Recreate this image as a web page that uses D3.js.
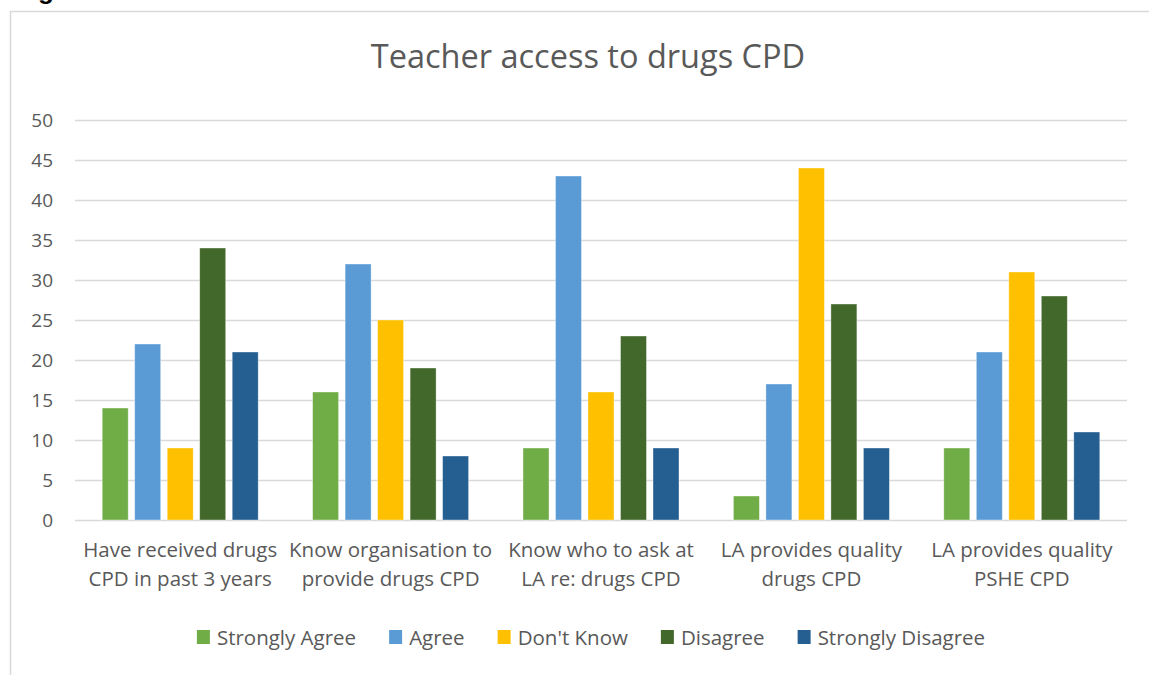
<!DOCTYPE html>
<html>
<head>
<meta charset="utf-8">
<script src="https://cdn.jsdelivr.net/npm/d3@7"></script>
<style>
  html, body { margin: 0; padding: 0; background: #fff; }
  svg { display: block; }
  text { font-family: "Open Sans", Lato, sans-serif; fill: #595959; }
</style>
</head>
<body>
<svg id="chart" width="1149" height="675"></svg>
<script>
// Survey responses: number of teachers per answer, for each statement
const categories = [
  ["Have received drugs", "CPD in past 3 years"],
  ["Know organisation to", "provide drugs CPD"],
  ["Know who to ask at", "LA re: drugs CPD"],
  ["LA provides quality", "drugs CPD"],
  ["LA provides quality", "PSHE CPD"]
];
const seriesNames = ["Strongly Agree", "Agree", "Don't Know", "Disagree", "Strongly Disagree"];
const stronglyAgree    = [14, 16, 9, 3, 9];
const agree            = [22, 32, 43, 17, 21];
const dontKnow         = [9, 25, 16, 44, 31];
const disagree         = [34, 19, 23, 27, 28];
const stronglyDisagree = [21, 8, 9, 9, 11];
const yTicks = [0, 5, 10, 15, 20, 25, 30, 35, 40, 45, 50];
const colors = ["#70AD47", "#5B9BD5", "#FFC000", "#43682B", "#255E91"];

const seriesValues = [stronglyAgree, agree, dontKnow, disagree, stronglyDisagree];
const catKeys = categories.map(c => c.join(" "));
const labelSize = "20.5px";

const svg = d3.select("#chart");

// Heading above the chart frame (only its descender falls inside the page)
svg.append("text")
  .attr("x", 15).attr("y", -1.5)
  .style("font-family", "'Liberation Sans', Arial, sans-serif")
  .style("font-weight", "bold")
  .style("font-size", "26px")
  .style("fill", "#000")
  .text("Figure");

// Chart area frame
svg.append("rect")
  .attr("x", 10.5).attr("y", 11.5)
  .attr("width", 1300).attr("height", 800)
  .attr("fill", "#fff")
  .attr("stroke", "#d9d9d9")
  .attr("stroke-width", 1.5);

const plot = { left: 75, right: 1127, top: 120, bottom: 520 };

const x0 = d3.scaleBand().domain(catKeys).range([plot.left, plot.right]).padding(0);
const inner = 27.2;
const x1 = d3.scaleBand().domain(seriesNames)
  .range([inner, x0.bandwidth() - inner]).paddingInner(0.2).paddingOuter(0);
const y = d3.scaleLinear().domain([0, 50]).range([plot.bottom, plot.top]);

// Title
svg.append("text")
  .attr("x", 588).attr("y", 68)
  .attr("text-anchor", "middle")
  .style("font-size", "32.5px")
  .text("Teacher access to drugs CPD");

// Horizontal gridlines
const grid = svg.append("g")
  .attr("transform", `translate(${plot.left},0)`)
  .call(d3.axisLeft(y).tickValues(yTicks).tickSize(-(plot.right - plot.left)).tickFormat(""));
grid.select(".domain").remove();
grid.selectAll(".tick line").attr("stroke", "#d9d9d9").attr("stroke-width", 1.5);

// Y axis labels
const yAxis = svg.append("g")
  .attr("transform", `translate(53,0)`)
  .call(d3.axisLeft(y).tickValues(yTicks).tickSize(0).tickPadding(0));
yAxis.select(".domain").remove();
yAxis.selectAll("text")
  .style("font-size", "19px")
  .style("fill", "#595959")
  .style("font-family", "'Open Sans', Lato, sans-serif");

// Bars
const groups = svg.append("g").selectAll("g")
  .data(catKeys)
  .join("g")
  .attr("transform", d => `translate(${x0(d)},0)`);

groups.selectAll("rect")
  .data((d, i) => seriesNames.map((s, j) => ({ s, j, v: seriesValues[j][i] })))
  .join("rect")
  .attr("x", d => x1(d.s))
  .attr("width", x1.bandwidth())
  .attr("y", d => y(d.v))
  .attr("height", d => y(0) - y(d.v))
  .attr("fill", d => colors[d.j])
  .attr("stroke", "#fff")
  .attr("stroke-opacity", 0.5)
  .attr("stroke-width", 0.75);

// Category labels (two lines each)
const catLabels = svg.append("g").selectAll("text")
  .data(categories)
  .join("text")
  .attr("text-anchor", "middle")
  .style("font-size", labelSize)
  .attr("transform", (d, i) => `translate(${x0(catKeys[i]) + x0.bandwidth() / 2},0)`);
catLabels.selectAll("tspan")
  .data(d => d)
  .join("tspan")
  .attr("x", 0)
  .attr("y", (d, i) => 557 + i * 29)
  .text(d => d);

// Legend
const legend = svg.append("g");
const items = legend.selectAll("g")
  .data(seriesNames)
  .join("g");
items.append("rect")
  .attr("width", 13).attr("height", 14)
  .attr("y", 630)
  .attr("fill", (d, i) => colors[i]);
items.append("text")
  .attr("x", 20).attr("y", 645)
  .style("font-size", labelSize)
  .text(d => d);
const widths = [];
items.each(function () {
  widths.push(20 + d3.select(this).select("text").node().getComputedTextLength());
});
const gap = 33;
const total = d3.sum(widths) + gap * (widths.length - 1);
let cursor = 591 - total / 2;
items.attr("transform", (d, i) => {
  const t = `translate(${cursor},0)`;
  cursor += widths[i] + gap;
  return t;
});
</script>
</body>
</html>
